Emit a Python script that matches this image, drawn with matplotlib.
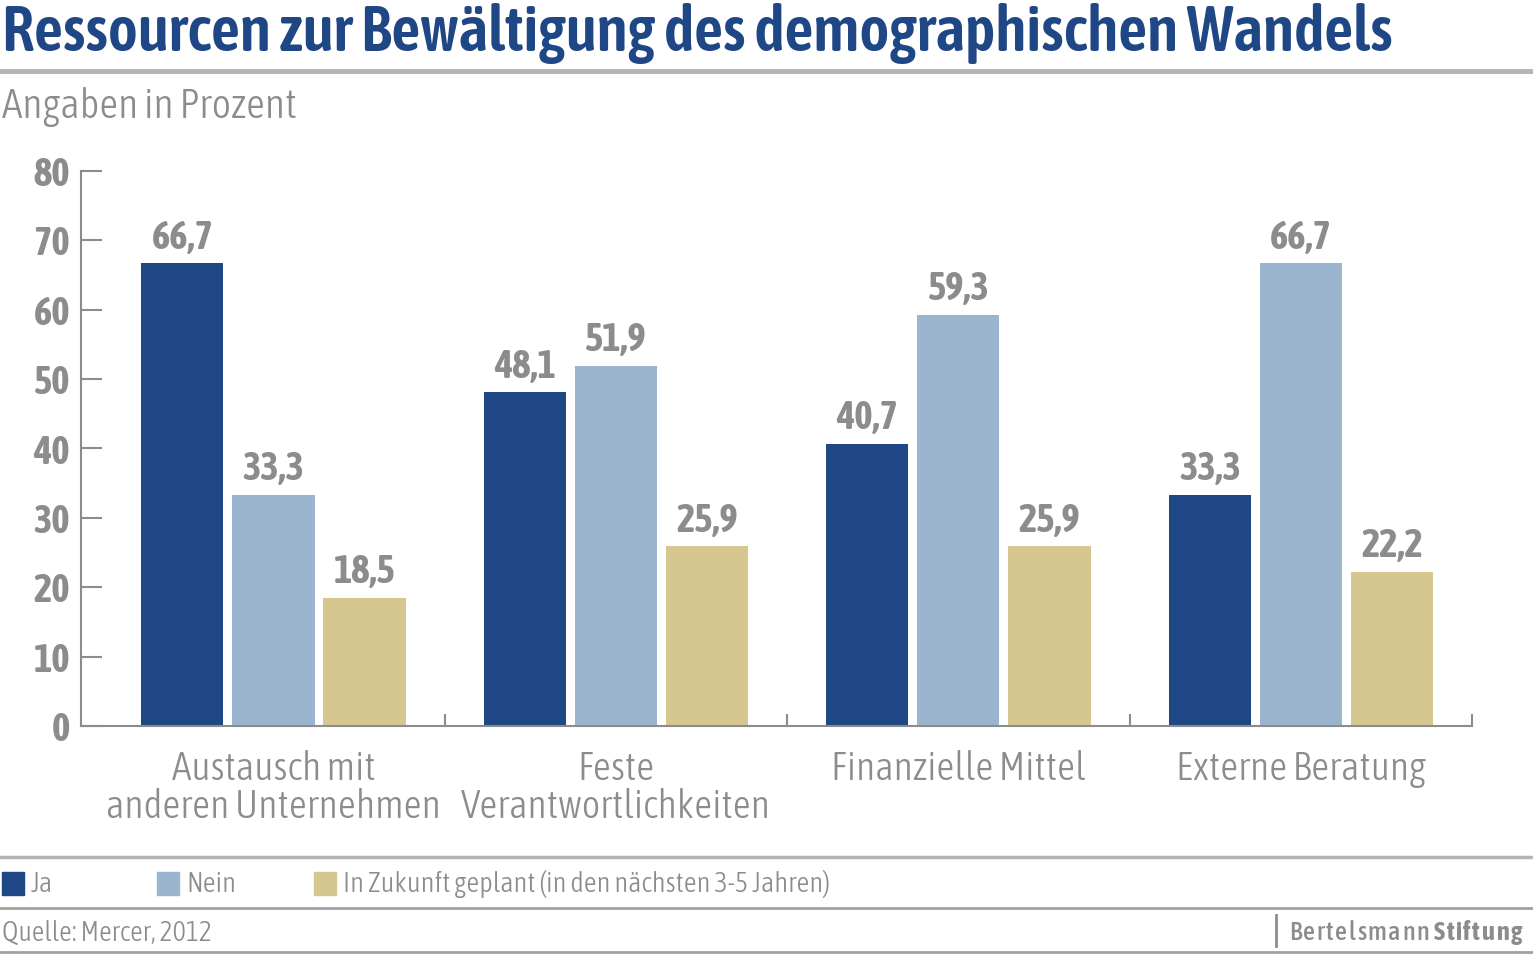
import matplotlib
matplotlib.use("Agg")
import matplotlib.pyplot as plt
from matplotlib.lines import Line2D
from matplotlib.patches import Rectangle
import numpy as np
from matplotlib import font_manager

avail = {f.name for f in font_manager.fontManager.ttflist}
FONT = "Roboto"
for cand in ["Asap Condensed", "Roboto Condensed", "Archivo Narrow",
             "Liberation Sans Narrow"]:
    if cand in avail:
        FONT = cand
        break
plt.rcParams['font.family'] = [FONT, 'DejaVu Sans']
LIGHT = 300
BOLD = 700

categories = ["Austausch mit\nanderen Unternehmen", "Feste\nVerantwortlichkeiten",
              "Finanzielle Mittel", "Externe Beratung"]
series_names = ["Ja", "Nein", "In Zukunft geplant (in den nächsten 3-5 Jahren)"]
ja = [66.7, 48.1, 40.7, 33.3]
nein = [33.3, 51.9, 59.3, 66.7]
zukunft = [18.5, 25.9, 25.9, 22.2]
yticks = [0, 10, 20, 30, 40, 50, 60, 70, 80]

colors = ["#1f4785", "#9bb5cf", "#d5c78f"]
GRAY = "#8c8c8c"
TITLE = "#1f4785"

W, H = 1533, 955
fig = plt.figure(figsize=(W / 100, H / 100), dpi=100)

def fx(px): return px / W
def fy(py): return 1 - py / H

ax = fig.add_axes([fx(81), fy(726), fx(1472) - fx(81), fy(171) - fy(726)])
x = np.arange(len(categories))
step = 0.266
bw = 0.24
for i, (vals, c) in enumerate(zip([ja, nein, zukunft], colors)):
    pos = x + (i - 1) * step
    ax.bar(pos, vals, width=bw, color=c, zorder=2)
    for p, v in zip(pos, vals):
        ax.text(p, v + 2.1, f"{v:.1f}".replace(".", ","), ha="center", va="baseline",
                fontsize=28, fontweight=BOLD, color=GRAY)

ax.set_ylim(0, 80)
ax.set_xlim(-0.562, 3.5)
for s in ["top", "right"]:
    ax.spines[s].set_visible(False)
for s in ["left", "bottom"]:
    ax.spines[s].set_color(GRAY)
    ax.spines[s].set_linewidth(1.5)
ax.set_yticks(yticks)
ax.set_yticklabels([str(t) for t in yticks], fontsize=28, fontweight=BOLD, color=GRAY)
ax.tick_params(axis="y", direction="in", length=15, width=1.5, color=GRAY, pad=8)
ax.set_xticks([0.5, 1.5, 2.5, 3.5])
ax.set_xticklabels([])
ax.tick_params(axis="x", direction="in", length=9, width=1.5, color=GRAY)
for xi, cat in zip(x, categories):
    ax.text(xi, -3.4, cat, ha="center", va="top", fontsize=28.5, color=GRAY,
            fontweight=LIGHT, linespacing=1.02)

# Title and subtitle
fig.text(fx(2), fy(51), "Ressourcen zur Bewältigung des demographischen Wandels",
         ha="left", va="baseline", fontsize=46, fontweight=600, color=TITLE)
fig.add_artist(Line2D([0, 1], [fy(71), fy(71)], color="#b4b4b4", lw=3.5))
fig.text(fx(2), fy(107), "Angaben in Prozent", ha="left", va="center",
         fontsize=30, fontweight=LIGHT, color=GRAY)

# Legend
fig.add_artist(Line2D([0, 1], [fy(857), fy(857)], color="#b4b4b4", lw=2.5))
legend_x = [2, 157, 314]
for lx, c, name in zip(legend_x, colors, series_names):
    fig.add_artist(Rectangle((fx(lx), fy(895)), fx(22), fy(872) - fy(895),
                             color=c, transform=fig.transFigure))
    fig.text(fx(lx + 29), fy(884), name, ha="left", va="center",
             fontsize=20.4, fontweight=LIGHT, color=GRAY)
fig.add_artist(Line2D([0, 1], [fy(908), fy(908)], color="#a0a0a0", lw=2))

# Source and logo
fig.text(fx(2), fy(933), "Quelle: Mercer, 2012", ha="left", va="center",
         fontsize=20, fontweight=LIGHT, color=GRAY)
fig.add_artist(Line2D([0, 1], [fy(952), fy(952)], color="#a0a0a0", lw=2))
fig.add_artist(Line2D([fx(1276), fx(1276)], [fy(915), fy(946)], color=GRAY, lw=2))

fig.canvas.draw()
renderer = fig.canvas.get_renderer()
cx = 1289.0
for word, wt, gap in [("Bertelsmann", 500, 1.6), ("Stiftung", BOLD, 1.6)]:
    for ch in word:
        t = fig.text(fx(cx), fy(940), ch, ha="left", va="baseline",
                     fontsize=19, fontweight=wt, color=GRAY)
        cx = t.get_window_extent(renderer).x1 + gap
    cx += 3

fig.savefig("out.png", dpi=100)
